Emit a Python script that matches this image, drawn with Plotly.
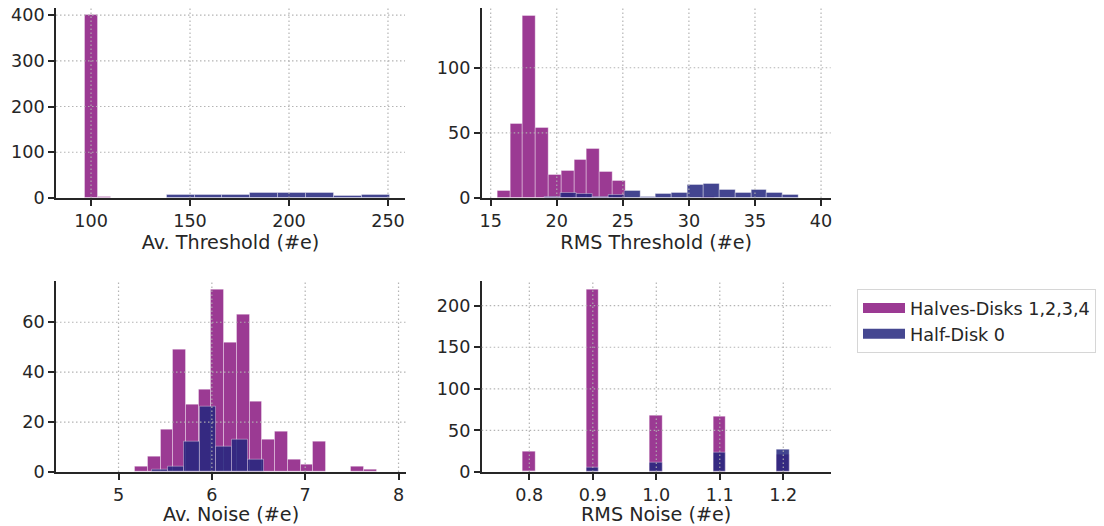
import numpy as np
import plotly.graph_objects as go

# ---------------- data ----------------
# Av. Threshold (#e)
avthr_purple_edges = [96.9, 103.5, 110.1]
avthr_purple_counts = [400, 3]
avthr_blue_edges = [138.2, 152.3, 166.4, 180.5, 194.6, 208.7, 222.8, 236.9, 251.0]
avthr_blue_counts = [7, 7, 7, 12, 12, 10, 4, 6]

# RMS Threshold (#e)
rmsthr_purple_edges = [15.53, 16.50, 17.46, 18.43, 19.40, 20.37, 21.33, 22.30, 23.27,
                       24.23, 25.20, 26.17, 27.13, 28.10, 29.07, 30.03, 31.00, 31.97]
rmsthr_purple_counts = [5, 57, 140, 54, 18, 21, 29, 38, 20, 13, 0, 0, 0, 0, 0, 0, 1]
rmsthr_blue_edges = [19.12, 20.32, 21.52, 22.72, 23.92, 25.12, 26.32, 27.52, 28.72,
                     29.92, 31.12, 32.32, 33.52, 34.72, 35.92, 37.12, 38.32]
rmsthr_blue_counts = [1, 4, 3, 1, 2, 5, 1, 3, 4, 10, 11, 6, 4, 6, 4, 2]

# Av. Noise (#e)
avnoise_purple_edges = [5.177, 5.313, 5.450, 5.586, 5.723, 5.859, 5.996, 6.132, 6.268, 6.405,
                        6.541, 6.678, 6.814, 6.950, 7.087, 7.223, 7.360, 7.496, 7.632, 7.769]
avnoise_purple_counts = [2, 6, 17, 49, 27, 33, 73, 52, 63, 28, 13, 16, 5, 3, 12, 0, 0, 2, 1]
avnoise_blue_edges = [5.355, 5.527, 5.698, 5.870, 6.041, 6.213, 6.384, 6.556]
avnoise_blue_counts = [1, 2, 12, 26, 10, 13, 5]

# RMS Noise (#e)
rmsnoise_bins = [0.8, 0.9, 1.0, 1.1, 1.2]
rmsnoise_bin_width = 0.02
rmsnoise_purple_counts = [25, 219, 68, 66, 21]
rmsnoise_blue_counts = [0, 5, 11, 23, 27]

series_names = ["Halves-Disks 1,2,3,4", "Half-Disk 0"]
x_titles = ["Av. Threshold (#e)", "RMS Threshold (#e)", "Av. Noise (#e)", "RMS Noise (#e)"]
x_ticks = [[100, 150, 200, 250], [15, 20, 25, 30, 35, 40], [5, 6, 7, 8], [0.8, 0.9, 1.0, 1.1, 1.2]]
y_ticks = [[0, 100, 200, 300, 400], [0, 50, 100], [0, 20, 40, 60], [0, 50, 100, 150, 200]]

# ---------------- style ----------------
PURPLE = "rgb(155,58,147)"
BLUE = "rgba(36,38,126,0.86)"
BLUE_LEGEND = "rgb(69,71,145)"
INK = "#262626"
FONT = "DejaVu Sans"
TICK_SIZE = 17.6
LABEL_SIZE = 19.2
EDGE = dict(color="rgba(255,255,255,0.35)", width=1)
GRID = dict(color="rgba(176,176,176,0.95)", width=1.2, dash="1.5px,2.5px")

fig = go.Figure()


def add_hist(edges, counts, color, xa, ya):
    e = np.asarray(edges, dtype=float)
    centers = (e[:-1] + e[1:]) / 2
    widths = np.diff(e)
    fig.add_trace(go.Bar(x=centers, y=counts, width=widths, marker=dict(color=color, line=EDGE),
                         xaxis=xa, yaxis=ya, showlegend=False))


def add_bins(centers, width, counts, color, xa, ya):
    fig.add_trace(go.Bar(x=centers, y=counts, width=[width] * len(centers),
                         marker=dict(color=color, line=EDGE),
                         xaxis=xa, yaxis=ya, showlegend=False))


add_hist(avthr_purple_edges, avthr_purple_counts, PURPLE, "x", "y")
add_hist(avthr_blue_edges, avthr_blue_counts, BLUE, "x", "y")
add_hist(rmsthr_purple_edges, rmsthr_purple_counts, PURPLE, "x2", "y2")
add_hist(rmsthr_blue_edges, rmsthr_blue_counts, BLUE, "x2", "y2")
add_hist(avnoise_purple_edges, avnoise_purple_counts, PURPLE, "x3", "y3")
add_hist(avnoise_blue_edges, avnoise_blue_counts, BLUE, "x3", "y3")
add_bins(rmsnoise_bins, rmsnoise_bin_width, rmsnoise_purple_counts, PURPLE, "x4", "y4")
add_bins(rmsnoise_bins, rmsnoise_bin_width, rmsnoise_blue_counts, BLUE, "x4", "y4")

# legend entries (wide swatches like matplotlib patches)
for name, col in zip(series_names, [PURPLE, BLUE_LEGEND]):
    fig.add_trace(go.Scatter(x=[None], y=[None], mode="lines", name=name,
                             line=dict(color=col, width=12), xaxis="x4", yaxis="y4",
                             showlegend=True))

# The page body has an 8px margin, so the figure is drawn 8px in from the window edge.
OFF = 8
W, H = 1104 - OFF, 526 - OFF


def px_x(sx):
    return (sx - OFF) / W


def px_y(sy):
    return min(1.0, 1 - (sy - OFF) / H)


xdom_l = [px_x(56), px_x(405)]
xdom_l2 = [px_x(56), px_x(406)]
xdom_r = [px_x(481.7), px_x(830.7)]
ydom_t = [px_y(198), px_y(8)]
ydom_b = [px_y(472), px_y(280.7)]

x_ranges = [[82.3, 258.6], [14.32, 40.73], [4.33, 8.08], [0.725, 1.2747]]
y_ranges = [[0, 415.4], [0, 145.9], [0, 76.65], [0, 230]]
x_doms = [xdom_l, xdom_r, xdom_l2, xdom_r]
y_doms = [ydom_t, ydom_t, ydom_b, ydom_b]


def axis_common():
    return dict(showline=True, linecolor=INK, linewidth=1.6, ticks="outside", ticklen=6,
                tickwidth=1.6, tickcolor=INK, showgrid=False, zeroline=False,
                tickfont=dict(family=FONT, size=TICK_SIZE, color=INK), layer="above traces",
                fixedrange=True, automargin=False, ticklabeloverflow="allow")


layout = {}
shapes = []
for i in range(4):
    sfx = "" if i == 0 else str(i + 1)
    xa = dict(axis_common(), domain=x_doms[i], range=x_ranges[i], anchor="y" + sfx,
              tickmode="array", tickvals=x_ticks[i],
              title=dict(text=x_titles[i], font=dict(family=FONT, size=LABEL_SIZE, color=INK),
                         standoff=2))
    if i == 3:
        xa["tickformat"] = ".1f"
    ya = dict(axis_common(), domain=y_doms[i], range=y_ranges[i], anchor="x" + sfx,
              tickmode="array", tickvals=y_ticks[i])
    layout["xaxis" + sfx] = xa
    layout["yaxis" + sfx] = ya
    # dotted grid drawn over the bars, as in the reference
    for t in x_ticks[i]:
        shapes.append(dict(type="line", xref="x" + sfx, yref="y" + sfx + " domain",
                           x0=t, x1=t, y0=0, y1=1, layer="above", line=GRID))
    for t in y_ticks[i]:
        if t == 0:
            continue
        shapes.append(dict(type="line", xref="x" + sfx + " domain", yref="y" + sfx,
                           x0=0, x1=1, y0=t, y1=t, layer="above", line=GRID))

fig.update_layout(**layout)
fig.update_layout(
    width=W, height=H, margin=dict(l=0, r=0, t=0, b=0, autoexpand=False),
    paper_bgcolor="white", plot_bgcolor="white",
    barmode="overlay", bargap=0,
    shapes=shapes,
    font=dict(family=FONT, color=INK),
    legend=dict(x=px_x(857), y=px_y(289), xanchor="left", yanchor="top",
                bgcolor="white", bordercolor="#d6d6d6", borderwidth=1,
                font=dict(family=FONT, size=TICK_SIZE, color=INK), itemwidth=42,
                tracegroupgap=0),
)

fig.write_html("out.html")
